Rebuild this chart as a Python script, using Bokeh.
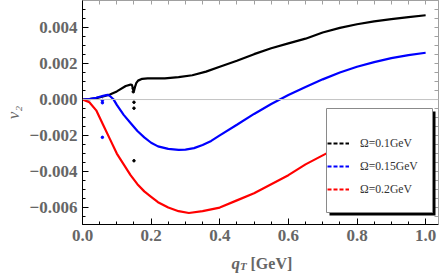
from bokeh.plotting import figure
from bokeh.layouts import column
from bokeh.models import (Range1d, Span, Legend, LegendItem, BoxAnnotation, Label,
                          FixedTicker, CustomJSTickFormatter, LinearAxis)
from bokeh.embed import file_html
from bokeh.resources import INLINE

nan = float("nan")

# ---- data ----
q_black = [0.0, 0.02, 0.04, 0.06, 0.08, 0.10, 0.126, 0.14, 0.144, 0.147, 0.150, 0.153,
           0.157, 0.162, 0.174, 0.19, 0.21, 0.24, 0.28, 0.32, 0.36,
           0.40, 0.45, 0.50, 0.55, 0.60, 0.65, 0.70, 0.75, 0.80, 0.85, 0.90, 0.95, 1.00]
v_black = [0.0, 0.00002, 0.00008, 0.00017, 0.00028, 0.00045, 0.00075, 0.00083, 0.00082,
           0.0006, 0.00047, 0.0007, 0.00092, 0.00105, 0.00115, 0.00118, 0.00118,
           0.00118, 0.00124, 0.00135, 0.00155, 0.00182, 0.00215, 0.00252,
           0.00285, 0.00312, 0.00338, 0.00372, 0.00398, 0.00418, 0.00434, 0.00447,
           0.00458, 0.00468]

q_blue = [0.0, 0.02, 0.04, 0.06, 0.073, 0.08, 0.09, 0.10, 0.12, 0.14, 0.16, 0.18, 0.20,
          0.22, 0.25, 0.28, 0.30, 0.325, 0.35, 0.375, 0.40, 0.45, 0.50, 0.55, 0.60, 0.65,
          0.70, 0.75, 0.80, 0.85, 0.90, 0.95, 1.00]
v_blue = [0.0, 0.00003, 0.0001, 0.0002, 0.00026, 0.0002, 0.00002, -0.0003, -0.00085,
          -0.0013, -0.00175, -0.0021, -0.0024, -0.0026, -0.00274, -0.0028, -0.00278,
          -0.0027, -0.00252, -0.0023, -0.00199, -0.0014, -0.0008, -0.00025, 0.00025,
          0.0007, 0.00112, 0.0015, 0.00182, 0.00208, 0.0023, 0.00247, 0.0026]

q_red = [0.0, 0.02, 0.04, 0.06, 0.08, 0.10, 0.12, 0.14, 0.16, 0.18, 0.20, 0.22, 0.25,
         0.28, 0.31, 0.35, 0.40, 0.45, 0.50, 0.55, 0.60, 0.65, 0.70, 0.75, 0.80, 0.90, 1.00]
v_red = [0.0, -0.00015, -0.0006, -0.0014, -0.0022, -0.003, -0.0036, -0.0042, -0.0047,
         -0.0051, -0.0054, -0.0057, -0.006, -0.0062, -0.0063, -0.0062, -0.006, -0.0056,
         -0.0052, -0.0047, -0.0042, -0.0036, -0.0031, -0.0026, -0.0021, -0.0013, -0.0006]

q_black_pts = [0.148, 0.148, 0.150, 0.150, 0.150]
v_black_pts = [0.0006, 0.00043, -0.00015, -0.00048, -0.0034]
q_blue_pts = [0.058, 0.058, 0.058]
v_blue_pts = [-0.00005, -0.00018, -0.0021]

x_ticks = [0.0, 0.2, 0.4, 0.6, 0.8, 1.0]
x_tick_labels = ["0.0", "0.2", "0.4", "0.6", "0.8", "1.0"]
y_ticks = [-0.006, -0.004, -0.002, 0.0, 0.002, 0.004]
y_tick_labels = ["\u22120.006", "\u22120.004", "\u22120.002", "0.000", "0.002", "0.004"]
legend_labels = ["\u03a9=0.1GeV", "\u03a9=0.15GeV", "\u03a9=0.2GeV"]
colors = ["#000000", "#0000ff", "#ff0000"]
y_label = "v\u2082"
x_label_parts = ["q", "T", "[GeV]"]

# ---- main figure ----
p = figure(width=441, height=247, output_backend="svg", toolbar_location=None,
           x_range=Range1d(0, 1.0375), y_range=Range1d(-0.00694, 0.0055),
           min_border_left=78, min_border_right=3, min_border_top=0, min_border_bottom=23)
p.background_fill_color = "white"
p.border_fill_color = "white"
p.outline_line_color = "#a0a0a0"
p.xgrid.visible = False
p.ygrid.visible = False

x_minor = [i * 0.05 for i in range(0, 21)]
y_minor = [-0.007 + i * 0.0005 for i in range(0, 25)]
fmt_code = """
for (let i = 0; i < t.length; i++) { if (Math.abs(tick - t[i]) < 1e-9) return l[i]; }
return '';
"""
p.xaxis.ticker = FixedTicker(ticks=x_ticks, minor_ticks=x_minor)
p.yaxis.ticker = FixedTicker(ticks=y_ticks, minor_ticks=y_minor)
p.xaxis.formatter = CustomJSTickFormatter(args=dict(t=x_ticks, l=x_tick_labels), code=fmt_code)
p.yaxis.formatter = CustomJSTickFormatter(args=dict(t=y_ticks, l=y_tick_labels), code=fmt_code)

for ax in (p.xaxis[0], p.yaxis[0]):
    ax.major_tick_in = 6
    ax.major_tick_out = 0
    ax.minor_tick_in = 3
    ax.minor_tick_out = 0
    ax.axis_line_color = "black"
    ax.major_tick_line_color = "black"
    ax.minor_tick_line_color = "black"
    ax.major_label_text_font = "Liberation Serif"
    ax.major_label_text_font_style = "bold"
    ax.major_label_text_font_size = "17px"
    ax.major_label_text_color = "#666666"
p.xaxis.major_label_standoff = 5
p.yaxis.major_label_standoff = 5
p.yaxis.axis_label = y_label
p.yaxis.axis_label_standoff = 4
p.yaxis.axis_label_text_font = "Liberation Serif"
p.yaxis.axis_label_text_font_style = "italic"
p.yaxis.axis_label_text_font_size = "17px"
p.yaxis.axis_label_text_color = "#666666"

# light tick-only frame axes on top and right (no labels)
for side, mn in (("above", x_minor), ("right", y_minor)):
    ax = LinearAxis(ticker=FixedTicker(ticks=[], minor_ticks=mn),
                    major_label_standoff=0,
                    major_tick_in=0, major_tick_out=0, minor_tick_in=4, minor_tick_out=0,
                    axis_line_color="#a0a0a0", major_tick_line_color="#a0a0a0",
                    minor_tick_line_color="#a0a0a0")
    p.add_layout(ax, side)

p.add_layout(Span(location=0, dimension="width", line_color="#c4c4c4", line_width=1))

# curves
p.line(q_black, v_black, line_color=colors[0], line_width=2.2)
p.line(q_blue, v_blue, line_color=colors[1], line_width=2.2)
p.line(q_red, v_red, line_color=colors[2], line_width=2.2)
p.scatter(q_black_pts, v_black_pts, size=2.5, color=colors[0])
p.scatter(q_blue_pts, v_blue_pts, size=2.5, color=colors[1])

# legend proxies (dashed samples, not drawn in the plot)
proxies = [p.line(x=[nan], y=[nan], line_color=c, line_width=2, line_dash="4 2") for c in colors]

# legend frame + shadow
shadow = BoxAnnotation(left=247, right=353, bottom=9, top=113,
                       left_units="screen", right_units="screen",
                       bottom_units="screen", top_units="screen",
                       fill_color="black", fill_alpha=1, line_color=None, level="annotation")
box = BoxAnnotation(left=244, right=350, bottom=12, top=116,
                    left_units="screen", right_units="screen",
                    bottom_units="screen", top_units="screen",
                    fill_color="white", fill_alpha=1, line_color="#8a8a8a", line_alpha=1,
                    line_width=1, level="annotation")
p.add_layout(shadow)
p.add_layout(box)

legend = Legend(items=[LegendItem(label=lab, renderers=[r]) for lab, r in zip(legend_labels, proxies)],
                location=(245, 25), padding=5, spacing=3, margin=0,
                label_height=20, glyph_height=20, glyph_width=22, label_standoff=11,
                label_text_font="Liberation Serif", label_text_font_size="11.7px",
                label_text_color="#333333", border_line_color=None,
                background_fill_alpha=0)
p.add_layout(legend)

# ---- x-axis title strip (q_T[GeV]); frame aligned with the main plot ----
p2 = figure(width=441, height=26, output_backend="svg", toolbar_location=None,
            x_axis_type=None, y_axis_type=None,
            min_border_left=78, min_border_right=3, min_border_top=0, min_border_bottom=0,
            x_range=Range1d(0, 1), y_range=Range1d(0, 1))
p2.outline_line_color = None
p2.background_fill_color = "white"
p2.border_fill_color = "white"
p2.xgrid.visible = False
p2.ygrid.visible = False
st = dict(x_units="screen", y_units="screen", text_font="Liberation Serif",
          text_color="#666666", text_baseline="alphabetic")
p2.add_layout(Label(x=149, y=10, text=x_label_parts[0], text_font_style="bold italic",
                    text_font_size="17px", **st))
p2.add_layout(Label(x=157.5, y=7.5, text=x_label_parts[1], text_font_style="bold italic",
                    text_font_size="11px", **st))
p2.add_layout(Label(x=168, y=10, text=x_label_parts[2], text_font_style="bold",
                    text_font_size="16px", **st))

layout = column(p, p2, spacing=0)
open("out.html", "w").write(file_html(layout, INLINE))
